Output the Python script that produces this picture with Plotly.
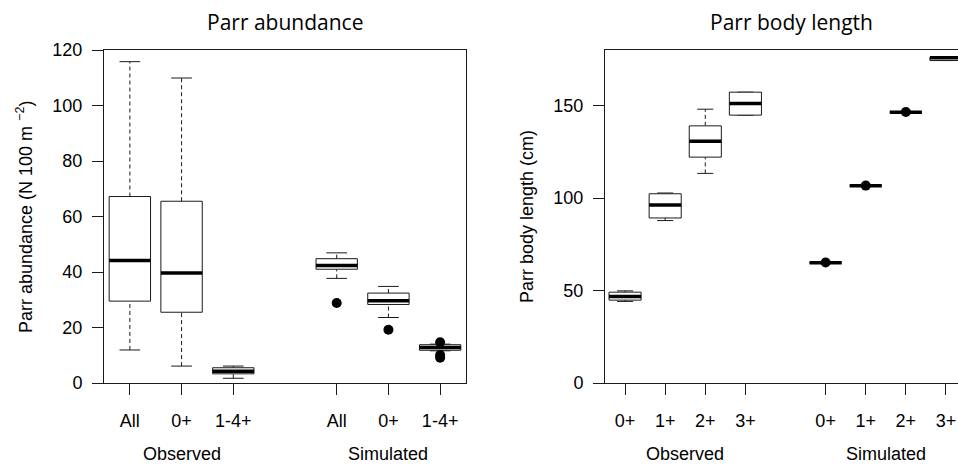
import plotly.graph_objects as go

# ---------------- data ----------------
ab_groups = ["Observed", "Simulated"]
ab_classes = ["All", "0+", "1-4+"]
ab_lower = [11.9, 6.1, 1.7, 37.7, 23.6, 11.6]
ab_q1 = [29.5, 25.5, 3.3, 41.0, 28.3, 11.8]
ab_median = [44.1, 39.6, 4.2, 42.3, 29.6, 12.8]
ab_q3 = [67.2, 65.5, 5.5, 44.8, 32.4, 13.8]
ab_upper = [115.8, 109.9, 6.1, 46.9, 34.8, 14.0]
ab_outliers = [[], [], [], [28.8], [19.2], [14.7, 10.1, 9.1]]
ab_yticks = [0, 20, 40, 60, 80, 100, 120]

len_groups = ["Observed", "Simulated"]
len_classes = ["0+", "1+", "2+", "3+"]
len_lower = [44.1, 87.8, 113.3, 144.8, 65.0, 106.6, 146.4, 174.3]
len_q1 = [44.8, 89.2, 122.1, 144.8, 65.0, 106.6, 146.4, 174.3]
len_median = [46.8, 96.2, 130.7, 151.1, 65.0, 106.6, 146.4, 175.8]
len_q3 = [49.1, 102.3, 139.0, 157.2, 65.0, 106.6, 146.4, 176.0]
len_upper = [49.8, 102.7, 148.0, 157.2, 65.0, 106.6, 146.4, 176.0]
len_outliers = [[], [], [], [], [65.1], [106.7], [146.5], []]
len_yticks = [0, 50, 100, 150]

# ---------------- layout helpers ----------------
W, H = 958, 468
ARIAL = "Liberation Sans, Arial, sans-serif"
TITLEF = "Open Sans, Noto Sans, sans-serif"
INK = "#1a1a1a"


def positions(groups, classes):
    pos, labels, centers = [], [], []
    for g in range(len(groups)):
        start = g * (len(classes) + 1) + 1
        ps = [start + i for i in range(len(classes))]
        pos += ps
        labels += classes
        centers.append(sum(ps) / len(ps))
    return pos, labels, centers


fig = go.Figure()


def add_boxes(xa, ya, pos, lower, q1, med, q3, upper, outliers):
    bw, cw = 0.4, 0.2
    bx, by, wx, wy, cx, cy, mx, my, ox, oy = ([] for _ in range(10))
    for p, lo, a, m, b, hi, outs in zip(pos, lower, q1, med, q3, upper, outliers):
        bx += [p - bw, p + bw, p + bw, p - bw, p - bw, None]
        by += [a, a, b, b, a, None]
        if hi > b:
            wx += [p, p, None]
            wy += [b, hi, None]
        if lo < a:
            wx += [p, p, None]
            wy += [lo, a, None]
        cx += [p - cw, p + cw, None, p - cw, p + cw, None]
        cy += [hi, hi, None, lo, lo, None]
        mx += [p - bw, p + bw, None]
        my += [m, m, None]
        for o in outs:
            ox.append(p)
            oy.append(o)
    common = dict(xaxis=xa, yaxis=ya, hoverinfo="skip", showlegend=False)
    fig.add_trace(go.Scatter(x=wx, y=wy, mode="lines",
                             line=dict(color=INK, width=1, dash="4px,3px"), **common))
    fig.add_trace(go.Scatter(x=cx, y=cy, mode="lines",
                             line=dict(color=INK, width=1), **common))
    fig.add_trace(go.Scatter(x=bx, y=by, mode="lines", fill="toself", fillcolor="white",
                             line=dict(color=INK, width=1), **common))
    fig.add_trace(go.Scatter(x=mx, y=my, mode="lines",
                             line=dict(color="black", width=3.5), **common))
    fig.add_trace(go.Scatter(x=ox, y=oy, mode="markers",
                             marker=dict(color="black", size=10, line=dict(width=0)), **common))


ab_pos, ab_labels, ab_centers = positions(ab_groups, ab_classes)
len_pos, len_labels, len_centers = positions(len_groups, len_classes)

add_boxes("x", "y", ab_pos, ab_lower, ab_q1, ab_median, ab_q3, ab_upper, ab_outliers)
add_boxes("x2", "y2", len_pos, len_lower, len_q1, len_median, len_q3, len_upper, len_outliers)

ydom = [1 - 383 / H, 1 - 50 / H]
tickfont = dict(family=ARIAL, size=18, color="black")
axis_common = dict(showgrid=False, zeroline=False, ticks="outside", ticklen=11,
                   tickcolor=INK, linecolor=INK, linewidth=1, showline=True,
                   tickfont=tickfont, fixedrange=True, automargin=False)

fig.update_layout(
    width=W, height=H,
    margin=dict(l=0, r=0, t=0, b=0, pad=0),
    paper_bgcolor="white", plot_bgcolor="white",
    showlegend=False,
    xaxis=dict(domain=[104 / W, 466 / W], range=[0.5, 7.5], anchor="y",
               tickvals=ab_pos, ticktext=ab_labels, mirror=True,
               ticklabelstandoff=10, **axis_common),
    yaxis=dict(domain=ydom, range=[0, 120], anchor="x", tickvals=ab_yticks,
               mirror=True, ticklabelstandoff=6, **axis_common),
    xaxis2=dict(domain=[605 / W, 1.0], range=[0.5, 9.3], anchor="y2",
                tickvals=len_pos, ticktext=len_labels, mirror=True,
                ticklabelstandoff=10, **axis_common),
    yaxis2=dict(domain=ydom, range=[0, 180], anchor="x2", tickvals=len_yticks,
                mirror=False, ticklabelstandoff=6, **axis_common),
)

ann = []
# panel titles
ann.append(dict(text="Parr abundance", x=285 / W, y=1 - 22 / H, xref="paper", yref="paper",
                showarrow=False, xanchor="center", yanchor="middle",
                font=dict(family=TITLEF, size=21, color="black")))
ann.append(dict(text="Parr body length", x=791 / W, y=1 - 22 / H, xref="paper", yref="paper",
                showarrow=False, xanchor="center", yanchor="middle",
                font=dict(family=TITLEF, size=21, color="black")))
# y-axis titles
ann.append(dict(text="Parr abundance (N 100 m <sup>−2</sup>)", x=24 / W, y=1 - 217 / H,
                xref="paper", yref="paper", textangle=-90, showarrow=False,
                xanchor="center", yanchor="middle",
                font=dict(family=ARIAL, size=18, color="black")))
ann.append(dict(text="Parr body length (cm)", x=527 / W, y=1 - 217 / H,
                xref="paper", yref="paper", textangle=-90, showarrow=False,
                xanchor="center", yanchor="middle",
                font=dict(family=ARIAL, size=18, color="black")))
# group labels
for g, c in zip(ab_groups, ab_centers):
    ann.append(dict(text=g, x=c, y=1 - 454 / H, xref="x", yref="paper", showarrow=False,
                    xanchor="center", yanchor="middle",
                    font=dict(family=ARIAL, size=18, color="black")))
for g, c in zip(len_groups, len_centers):
    ann.append(dict(text=g, x=c, y=1 - 454 / H, xref="x2", yref="paper", showarrow=False,
                    xanchor="center", yanchor="middle",
                    font=dict(family=ARIAL, size=18, color="black")))
fig.update_layout(annotations=ann)

fig.write_html("out.html", config={"displayModeBar": False})
